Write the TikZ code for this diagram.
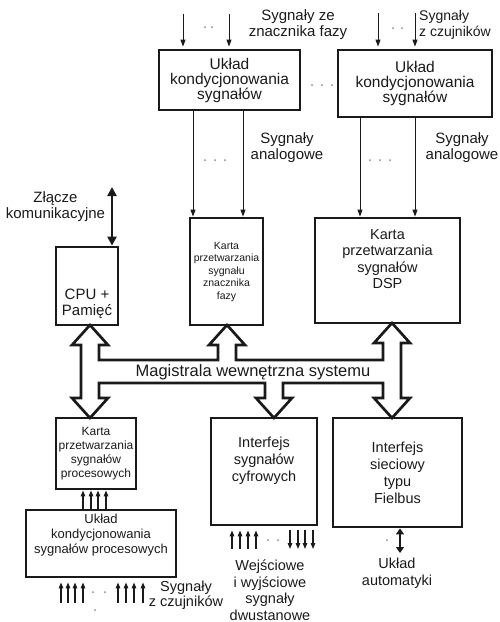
\documentclass[tikz,border=0pt]{standalone}
\usepackage{fontspec}
\setmainfont{Liberation Sans}
\usetikzlibrary{positioning,arrows.meta}
\definecolor{ink}{HTML}{1A1A1A}
\definecolor{faded}{HTML}{8A8A8A}

\begin{document}
\begin{tikzpicture}[
  x=1pt, y=-1pt,
  box/.style={draw=ink, line width=2.8pt, inner sep=0pt, align=center, text=ink,
              font=\fontsize{15.5}{15}\selectfont},
  lbl/.style={align=center, text=ink, inner sep=0pt, font=\fontsize{15}{16}\selectfont},
  sig/.style={-{Triangle[length=7pt,width=5pt]}, line width=1pt, draw=ink},
  sigup/.style={-{Triangle[length=6pt,width=4.5pt]}, line width=1.3pt, draw=ink},
  fat/.style={{Triangle[length=9pt,width=9pt]}-{Triangle[length=9pt,width=9pt]}, line width=2.6pt, draw=ink},
  dbl/.style={{Triangle[length=6pt,width=8pt]}-{Triangle[length=6pt,width=8pt]}, line width=1.4pt, draw=ink},
  bus/.style={draw=ink, line width=2.7pt}
]
  \useasboundingbox (0,0) rectangle (499,622);

  % uklady kondycjonowania (gora)
  \node[box, minimum width=141pt, minimum height=60pt] (ukl1) at (229.5,80) {Układ\\kondycjonowania\\sygnałów};
  \node[box, minimum width=154pt, minimum height=67pt] (ukl2) at (415,83.5) {Układ\\kondycjonowania\\sygnałów};

  \node[lbl] (fazalbl) at (298,25) {Sygnały ze\\znacznika fazy};
  \node[lbl, align=left, anchor=west, font=\fontsize{14}{16}\selectfont] (czujlbl) at (419,25) {Sygnały\\z czujników};

  \foreach \x/\n in {183/inA, 229/inB} {
    \coordinate (\n) at (\x,14);
    \draw[sig, shorten >=2pt] (\n) -- (\n |- ukl1.north);
  }
  \foreach \x/\n in {378/inC, 415/inD} {
    \coordinate (\n) at (\x,13);
    \draw[sig, shorten >=2pt] (\n) -- (\n |- ukl2.north);
  }

  % karty przetwarzania
  \node[box, minimum width=62pt, minimum height=78pt] (cpu) at (87,286) {};
  \node[lbl] (cputxt) at (87,304) {CPU +\\Pamięć};
  \node[box, minimum width=73pt, minimum height=107pt, font=\fontsize{10.5}{12.5}\selectfont] (kss) at (226.5,271.5)
    {Karta\\przetwarzania\\sygnału\\znacznika\\fazy};
  \node[box, minimum width=145pt, minimum height=105pt, font=\fontsize{14.5}{16.5}\selectfont] (dsp) at (387.5,270.5)
    {Karta\\przetwarzania\\sygnałów\\DSP\\[6pt]};

  \foreach \x/\n in {193/anA, 243/anB} {
    \coordinate (\n) at (\x,0);
    \draw[sig] (ukl1.south -| \n) -- (kss.north -| \n);
  }
  \foreach \x/\n in {360/anC, 415/anD} {
    \coordinate (\n) at (\x,0);
    \draw[sig] (ukl2.south -| \n) -- (dsp.north -| \n);
  }
  \node[lbl] (analbl1) at (287,148) {Sygnały\\analogowe};
  \node[lbl] (analbl2) at (462,148) {Sygnały\\analogowe};

  \node[lbl] (zlbl) at (55.5,207) {Złącze\\komunikacyjne};
  \coordinate (zlacze) at (112,187);
  \draw[fat] (zlacze) -- (zlacze |- cpu.north);

  % dol
  \node[box, minimum width=80pt, minimum height=71pt, font=\fontsize{12}{14}\selectfont] (kps) at (96,453.5)
    {Karta\\przetwarzania\\sygnałów\\procesowych};
  \node[box, minimum width=150pt, minimum height=67pt, font=\fontsize{13}{15}\selectfont] (ukp) at (101,543.5)
    {Układ\\kondycjonowania\\sygnałów procesowych\\[4pt]};
  \node[box, minimum width=106pt, minimum height=107pt] (ifc) at (264,471.5) {};
  \node[lbl, font=\fontsize{14.5}{17}\selectfont] (ifctxt) at (264,461) {Interfejs\\sygnałów\\cyfrowych};
  \node[box, minimum width=129pt, minimum height=109pt, font=\fontsize{14.5}{17}\selectfont] (ifb) at (397.5,472.5)
    {Interfejs\\sieciowy\\typu\\Fielbus};

  \foreach \x in {83,91,98,106} {
    \coordinate (p\x) at (\x,0);
    \draw[sigup] (ukp.north -| p\x) -- (kps.south -| p\x);
  }
  \foreach \x in {61,68,75,83,118,126,134,143} {
    \coordinate (s\x) at (\x,603);
    \draw[sigup, shorten >=4pt] (s\x) -- (s\x |- ukp.south);
  }
  \foreach \x in {232,240,248,256} {
    \coordinate (w\x) at (\x,549);
    \draw[sigup, shorten >=4pt] (w\x) -- (w\x |- ifc.south);
  }
  \foreach \x in {290,298,305,313} {
    \coordinate (o\x) at (\x,549);
    \draw[sigup, shorten <=4pt] (o\x |- ifc.south) -- (o\x);
  }
  \coordinate (auto) at (400,553);
  \draw[dbl] (auto |- ifb.south) -- (auto);

  \node[lbl, font=\fontsize{14.5}{15.5}\selectfont] (czuj2) at (186,595) {Sygnały\\z czujników};
  \node[lbl, font=\fontsize{14.5}{16.5}\selectfont] (wylbl) at (270,590) {Wejściowe\\i wyjściowe\\sygnały\\dwustanowe};
  \node[lbl, font=\fontsize{14.5}{16.5}\selectfont] (autolbl) at (397,573) {Układ\\automatyki};

  % magistrala
  \draw[bus] (90,325) -- (108,345) -- (99,345) -- (99,360) -- (218,360) -- (218,345) -- (209,345)
    -- (227,325) -- (245,345) -- (236,345) -- (236,360) -- (383,360) -- (383,343) -- (374,343)
    -- (392,323) -- (410,343) -- (401,343) -- (401,398) -- (410,398) -- (392,418) -- (374,398)
    -- (383,398) -- (383,383) -- (283,383) -- (283,398) -- (292,398) -- (274,418) -- (256,398)
    -- (265,398) -- (265,383) -- (99,383) -- (99,398) -- (108,398) -- (90,418) -- (72,398)
    -- (81,398) -- (81,345) -- (72,345) -- cycle;
  \node[lbl, font=\fontsize{16.5}{17}\selectfont] (magistrala) at (253,372) {Magistrala wewnętrzna systemu};

  % kropki
  \foreach \x/\y in {205/27, 212/27, 393/28, 402/28, 312/85, 322/85, 332/85,
                     205/160, 215/160, 225/160, 370/160, 380/160, 390/160,
                     268/540, 278/540, 387/540, 93/592, 105/592, 95/610}
    \fill[faded] (\x,\y) circle (1pt);
\end{tikzpicture}
\end{document}
